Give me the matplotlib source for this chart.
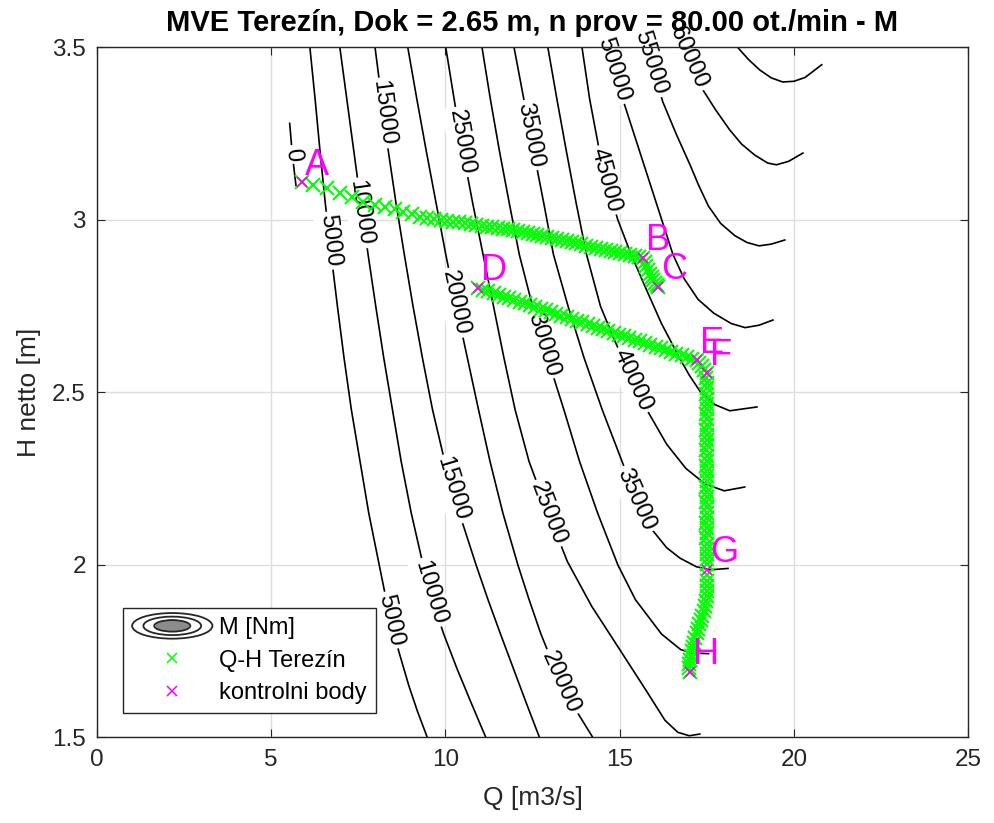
import numpy as np
import matplotlib
matplotlib.use("Agg")
import matplotlib.pyplot as plt
from matplotlib.legend_handler import HandlerBase
from matplotlib.patches import Ellipse
from matplotlib.ticker import FormatStrFormatter

plt.rcParams['font.family'] = ['Liberation Sans', 'DejaVu Sans']

# --- contour lines of torque M [Nm], traced as Q [m3/s] / H [m] ---
m0_q = [5.53, 5.58, 5.64, 5.71]
m0_h = [3.28, 3.22, 3.16, 3.10]

m5k_q = [6.11, 6.26, 6.40, 6.55, 6.72, 6.90, 7.09, 7.30, 7.55, 7.80, 8.10, 8.40, 8.66, 8.95, 9.20, 9.48]
m5k_h = [3.50, 3.35, 3.20, 3.05, 2.90, 2.75, 2.60, 2.45, 2.30, 2.15, 2.00, 1.85, 1.75, 1.65, 1.575, 1.50]

m10k_q = [6.97, 7.17, 7.37, 7.57, 7.78, 8.00, 8.23, 8.48, 8.73, 9.02, 9.36, 9.62, 9.95, 10.33, 10.74, 11.16]
m10k_h = [3.50, 3.35, 3.20, 3.05, 2.90, 2.75, 2.60, 2.45, 2.30, 2.15, 2.00, 1.90, 1.80, 1.70, 1.60, 1.50]

m15k_q = [7.98, 8.17, 8.36, 8.58, 8.82, 9.07, 9.34, 9.63, 9.98, 10.40, 10.88, 11.22, 11.58, 11.95, 12.32, 12.70]
m15k_h = [3.50, 3.35, 3.20, 3.05, 2.90, 2.75, 2.60, 2.45, 2.30, 2.15, 2.00, 1.90, 1.80, 1.70, 1.60, 1.50]

m20k_q = [8.92, 9.18, 9.45, 9.73, 10.01, 10.31, 10.63, 10.95, 11.28, 11.65, 12.08, 12.40, 12.74, 13.14, 13.62, 14.23]
m20k_h = [3.50, 3.35, 3.20, 3.05, 2.90, 2.75, 2.60, 2.45, 2.30, 2.15, 2.00, 1.90, 1.80, 1.70, 1.60, 1.50]

m25k_q = [10.01, 10.25, 10.50, 10.78, 11.08, 11.38, 11.68, 12.00, 12.40, 12.95, 13.50, 14.20, 14.97, 15.80, 16.30, 16.67, 17.00, 17.30]
m25k_h = [3.50, 3.35, 3.20, 3.05, 2.90, 2.75, 2.60, 2.45, 2.30, 2.15, 2.01, 1.88, 1.76, 1.63, 1.55, 1.515, 1.505, 1.51]

m30k_q = [11.05, 11.29, 11.55, 11.83, 12.12, 12.50, 12.93, 13.40, 13.85, 14.37, 14.95, 15.45, 16.20, 16.75, 17.05, 17.55]
m30k_h = [3.50, 3.35, 3.20, 3.05, 2.90, 2.75, 2.60, 2.45, 2.30, 2.15, 2.00, 1.90, 1.80, 1.755, 1.745, 1.743]

m35k_q = [11.97, 12.25, 12.53, 12.82, 13.10, 13.52, 13.98, 14.50, 15.07, 15.45, 15.95, 16.35, 16.73, 17.20, 17.60, 18.11]
m35k_h = [3.50, 3.35, 3.20, 3.05, 2.90, 2.75, 2.60, 2.45, 2.30, 2.20, 2.10, 2.05, 2.02, 1.995, 1.986, 1.99]

m40k_q = [12.94, 13.20, 13.47, 13.75, 14.05, 14.45, 14.86, 15.30, 15.78, 16.35, 16.90, 17.45, 18.00, 18.59]
m40k_h = [3.50, 3.35, 3.20, 3.05, 2.90, 2.75, 2.65, 2.55, 2.45, 2.35, 2.28, 2.235, 2.215, 2.226]

m45k_q = [13.92, 14.14, 14.42, 14.65, 14.95, 15.33, 15.76, 16.20, 16.72, 17.00, 17.33, 17.73, 18.16, 18.94]
m45k_h = [3.50, 3.35, 3.20, 3.10, 3.00, 2.90, 2.80, 2.70, 2.60, 2.55, 2.50, 2.465, 2.447, 2.458]

m50k_q = [14.62, 14.93, 15.25, 15.57, 15.89, 16.21, 16.53, 16.85, 17.25, 17.70, 18.20, 18.60, 19.00, 19.40]
m50k_h = [3.50, 3.40, 3.30, 3.20, 3.10, 3.00, 2.90, 2.83, 2.77, 2.73, 2.70, 2.688, 2.695, 2.71]

m55k_q = [15.75, 16.00, 16.24, 16.62, 17.02, 17.27, 17.55, 17.90, 18.30, 18.65, 19.00, 19.35, 19.74]
m55k_h = [3.50, 3.42, 3.342, 3.25, 3.16, 3.10, 3.04, 2.99, 2.955, 2.935, 2.925, 2.93, 2.942]

m60k_q = [16.85, 17.05, 17.39, 17.75, 18.16, 18.50, 18.88, 19.25, 19.50, 19.85, 20.26]
m60k_h = [3.50, 3.45, 3.377, 3.32, 3.261, 3.22, 3.188, 3.165, 3.16, 3.17, 3.194]

m65k_q = [18.39, 18.70, 19.02, 19.35, 19.68, 20.00, 20.32, 20.80]
m65k_h = [3.50, 3.465, 3.435, 3.412, 3.40, 3.402, 3.413, 3.45]

# contour labels (level, position)
label_m = [0, 5000, 10000, 15000, 20000, 25000, 30000, 35000, 40000, 45000, 50000, 55000, 60000,
           5000, 10000, 15000, 20000, 25000, 35000]
label_q = [5.62, 6.68, 7.58, 8.22, 10.29, 10.46, 12.82, 12.44, 15.37, 14.61, 14.82, 15.90, 16.97,
           8.43, 9.57, 10.20, 13.30, 12.95, 15.47]
label_h = [3.19, 2.94, 3.02, 3.31, 2.76, 3.226, 2.64, 3.246, 2.536, 3.115, 3.435, 3.455, 3.47,
           1.84, 1.92, 2.22, 1.66, 2.15, 2.19]

# --- Q-H Terezin operating points ---
# A -> B -> C
ab_q = [5.88, 6.20, 6.60, 6.97, 7.32, 7.63, 7.98, 8.26, 8.55, 8.78, 9.04, 9.27,
        9.48, 9.68, 9.87, 10.05, 10.23, 10.40, 10.57, 10.73, 10.89, 11.05, 11.20, 11.35,
        11.50, 11.65, 11.80, 11.94, 12.08, 12.22, 12.36, 12.50, 12.64, 12.78, 12.92, 13.06,
        13.20, 13.34, 13.48, 13.62, 13.76, 13.90, 14.04, 14.18, 14.32, 14.46, 14.60, 14.74,
        14.88, 15.02, 15.16, 15.30, 15.44, 15.57, 15.67,
        15.72, 15.77, 15.82, 15.87, 15.92, 15.97, 16.02, 16.06, 16.10]
ab_h = [3.110, 3.101, 3.093, 3.078, 3.067, 3.052, 3.043, 3.038, 3.032, 3.023, 3.017, 3.009,
        3.006, 3.003, 3.000, 2.998, 2.995, 2.993, 2.990, 2.988, 2.986, 2.984, 2.981, 2.979,
        2.977, 2.975, 2.973, 2.971, 2.968, 2.965, 2.962, 2.959, 2.956, 2.953, 2.950, 2.947,
        2.944, 2.941, 2.938, 2.935, 2.932, 2.929, 2.926, 2.923, 2.919, 2.916, 2.913, 2.910,
        2.907, 2.904, 2.901, 2.898, 2.895, 2.892, 2.890,
        2.878, 2.866, 2.855, 2.844, 2.834, 2.826, 2.818, 2.812, 2.806]
# D -> E -> F
de_q = [10.93, 11.08, 11.23, 11.38, 11.53, 11.68, 11.83, 11.98, 12.13, 12.28, 12.43, 12.58,
        12.73, 12.88, 13.03, 13.18, 13.33, 13.48, 13.63, 13.78, 13.93, 14.08, 14.23, 14.38,
        14.53, 14.68, 14.83, 14.98, 15.13, 15.28, 15.43, 15.58, 15.73, 15.88, 16.03, 16.18,
        16.33, 16.48, 16.63, 16.78, 16.93, 17.08, 17.22, 17.29, 17.36, 17.43, 17.50]
de_h = [2.803, 2.798, 2.793, 2.788, 2.783, 2.778, 2.773, 2.768, 2.763, 2.758, 2.753, 2.748,
        2.743, 2.738, 2.733, 2.728, 2.723, 2.718, 2.713, 2.708, 2.703, 2.698, 2.693, 2.688,
        2.683, 2.678, 2.673, 2.668, 2.663, 2.658, 2.653, 2.648, 2.643, 2.638, 2.633, 2.628,
        2.623, 2.618, 2.613, 2.608, 2.603, 2.598, 2.594, 2.585, 2.576, 2.566, 2.557]
# F -> G
fg_q = [17.49, 17.51, 17.50, 17.48, 17.50, 17.52, 17.50, 17.49, 17.51, 17.50, 17.48, 17.50,
        17.52, 17.50, 17.49, 17.51, 17.50, 17.48, 17.50, 17.52, 17.50, 17.49, 17.51, 17.50,
        17.48, 17.50, 17.52, 17.50, 17.49, 17.51, 17.50, 17.48, 17.50, 17.52, 17.50, 17.50,
        17.50]
fg_h = [2.542, 2.527, 2.512, 2.497, 2.482, 2.467, 2.452, 2.437, 2.422, 2.407, 2.392, 2.377,
        2.362, 2.347, 2.332, 2.317, 2.302, 2.287, 2.272, 2.257, 2.242, 2.227, 2.212, 2.197,
        2.182, 2.167, 2.152, 2.137, 2.122, 2.107, 2.092, 2.077, 2.062, 2.047, 2.032, 2.017,
        2.002]
# G -> H
gh_q = [17.52, 17.52, 17.51, 17.51, 17.50, 17.47, 17.44, 17.41, 17.37, 17.33, 17.29, 17.25,
        17.21, 17.17, 17.13, 17.10, 17.07, 17.04, 17.02, 17.00, 16.98, 17.02]
gh_h = [1.970, 1.955, 1.940, 1.925, 1.910, 1.895, 1.880, 1.866, 1.852, 1.840, 1.828, 1.815,
        1.802, 1.789, 1.775, 1.762, 1.750, 1.737, 1.724, 1.712, 1.700, 1.690]

# --- control points ---
ctrl_names = ['A', 'B', 'C', 'D', 'E', 'F', 'G', 'H']
ctrl_q = [5.88, 15.67, 16.10, 10.93, 17.22, 17.50, 17.50, 17.02]
ctrl_h = [3.110, 2.890, 2.806, 2.803, 2.594, 2.557, 1.986, 1.690]

contours = [(0, m0_q, m0_h), (5000, m5k_q, m5k_h), (10000, m10k_q, m10k_h),
            (15000, m15k_q, m15k_h), (20000, m20k_q, m20k_h), (25000, m25k_q, m25k_h),
            (30000, m30k_q, m30k_h), (35000, m35k_q, m35k_h), (40000, m40k_q, m40k_h),
            (45000, m45k_q, m45k_h), (50000, m50k_q, m50k_h), (55000, m55k_q, m55k_h),
            (60000, m60k_q, m60k_h), (65000, m65k_q, m65k_h)]

DARK = '#262626'


class ContourIcon:
    pass


class HandlerContourIcon(HandlerBase):
    def create_artists(self, legend, orig_handle, xdescent, ydescent,
                       width, height, fontsize, trans):
        cx = -xdescent + width / 2
        cy = -ydescent + height / 2
        arts = [Ellipse((cx, cy), width * 0.42, height * 0.75, facecolor='#8c8c8c',
                        edgecolor='none', transform=trans)]
        for f in (1.0, 0.72, 0.45):
            arts.append(Ellipse((cx, cy), width * f, height * 1.55 * f, fill=False,
                                edgecolor=DARK, lw=1.3, transform=trans))
        return arts


def label_angle(ax, q, h, xq, xh):
    pts = ax.transData.transform(np.column_stack([q, h]))
    c = ax.transData.transform((xq, xh))
    i = int(np.argmin(np.hypot(pts[:, 0] - c[0], pts[:, 1] - c[1])))
    i0 = max(i - 1, 0)
    i1 = min(i + 1, len(q) - 1)
    d = pts[i1] - pts[i0]
    ang = np.degrees(np.arctan2(d[1], d[0]))
    if ang > 90:
        ang -= 180
    if ang < -90:
        ang += 180
    return ang


fig = plt.figure(figsize=(9.94, 8.23), dpi=100)
ax = fig.add_axes([0.0976, 0.1039, 0.8763, 0.8384])
ax.set_xlim(0, 25)
ax.set_ylim(1.5, 3.5)

for lev, q, h in contours:
    ax.plot(q, h, color='black', lw=1.2, zorder=1.0)

for lev, xq, xh in zip(label_m, label_q, label_h):
    q, h = [(c[1], c[2]) for c in contours if c[0] == lev][0]
    ang = label_angle(ax, q, h, xq, xh)
    ax.text(xq, xh, str(lev), fontsize=17, rotation=ang, rotation_mode='anchor',
            ha='center', va='center', color='black', zorder=1.1,
            bbox=dict(boxstyle='square,pad=0.12', fc='white', ec='none'))

qh_q = ab_q + de_q + fg_q + gh_q
qh_h = ab_h + de_h + fg_h + gh_h
qh_line, = ax.plot(qh_q, qh_h, 'x', color='#00ff00', ms=9.5, mew=1.5,
                   zorder=3, label='Q-H Terezín')
ctrl_line, = ax.plot(ctrl_q, ctrl_h, 'x', color='#ff00ff', ms=7.5, mew=1.2,
                     zorder=4, label='kontrolni body')
for name, q, h in zip(ctrl_names, ctrl_q, ctrl_h):
    ax.annotate(name, (q, h), xytext=(2.2, 5.4), textcoords='offset points',
                ha='left', va='baseline', fontsize=26, color='#ff00ff', zorder=5)

ax.set_xticks([0, 5, 10, 15, 20, 25])
ax.set_yticks([1.5, 2, 2.5, 3, 3.5])
ax.yaxis.set_major_formatter(FormatStrFormatter('%g'))
ax.grid(True, color='#dedede', lw=1.0)
ax.set_axisbelow(True)
ax.tick_params(direction='in', length=6, width=0.8, colors=DARK, labelsize=17.5,
               top=True, right=True, pad=8)
for s in ax.spines.values():
    s.set_color(DARK)
    s.set_linewidth(1.0)
    s.set_zorder(2.5)

ax.set_xlabel('Q [m3/s]', fontsize=19, color=DARK, labelpad=11)
ax.set_ylabel('H netto [m]', fontsize=19, color=DARK, labelpad=8)
ax.set_title('MVE Terezín, Dok = 2.65 m, n prov = 80.00 ot./min - M',
             fontsize=21, fontweight='bold', color='black', pad=12)

leg = ax.legend([ContourIcon(), qh_line, ctrl_line], ['M [Nm]', 'Q-H Terezín', 'kontrolni body'],
                handler_map={ContourIcon: HandlerContourIcon()},
                loc='lower left', bbox_to_anchor=(0.030, 0.035), borderaxespad=0,
                fontsize=17, handlelength=3.4, handletextpad=0.3, borderpad=0.38,
                labelspacing=0.45, fancybox=False, framealpha=1, edgecolor=DARK)
leg.get_frame().set_linewidth(1.0)
leg.set_zorder(6)
# legend markers keep the reference's small size
for h in leg.legend_handles[1:]:
    h.set_markersize(7.5)
    h.set_markeredgewidth(1.1)

fig.savefig('out.png', dpi=100)
